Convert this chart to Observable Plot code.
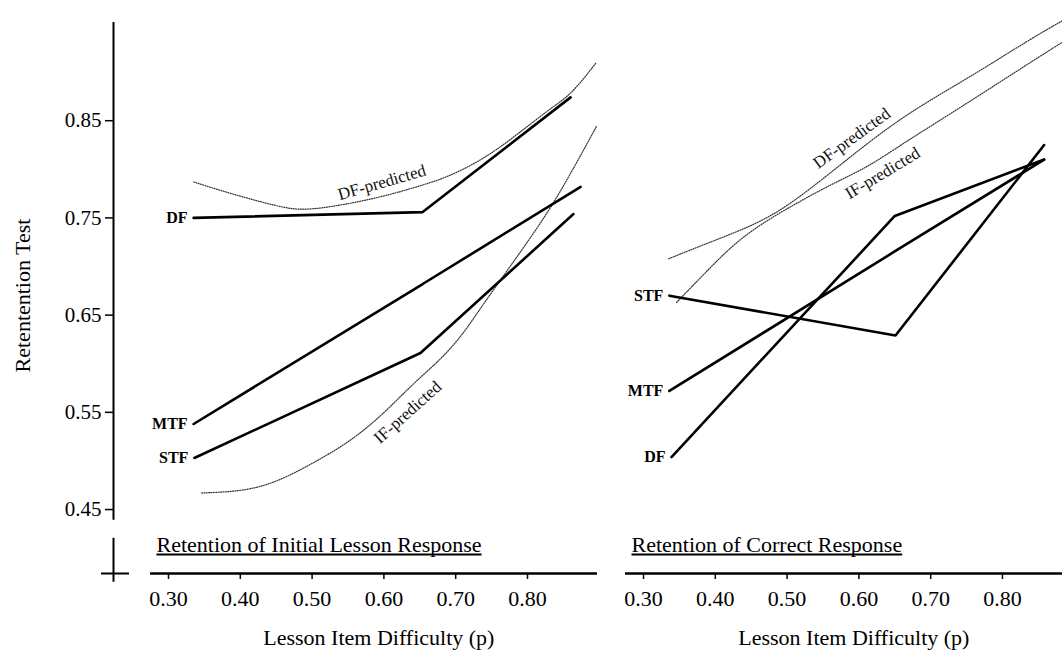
<!DOCTYPE html>
<html>
<head>
<meta charset="utf-8">
<script src="https://cdn.jsdelivr.net/npm/d3@7"></script>
<script src="https://cdn.jsdelivr.net/npm/@observablehq/plot@0.6"></script>
<style>
  body { margin: 0; background: #fff; }
  #chart { position: relative; width: 1062px; height: 656px; overflow: hidden; }
  #chart svg { position: absolute; top: 0; }
</style>
</head>
<body>
<div id="chart"></div>
<script>
// ---------- text ----------
const panelTitles = ["Retention of Initial Lesson Response", "Retention of Correct Response"];
const xTitle = "Lesson Item Difficulty (p)";
const yTitle = "Retentention Test";
const predictedNames = ["DF-predicted", "IF-predicted"];

// ---------- ticks ----------
const difficultyTicks = [0.30, 0.40, 0.50, 0.60, 0.70, 0.80];
const retentionTicks = [0.45, 0.55, 0.65, 0.75, 0.85];

// ---------- Left panel: Retention of Initial Lesson Response ----------
const initDF_x  = [0.335, 0.654, 0.860];
const initDF_y  = [0.750, 0.756, 0.874];
const initMTF_x = [0.335, 0.654, 0.874];
const initMTF_y = [0.538, 0.682, 0.782];
const initSTF_x = [0.336, 0.651, 0.864];
const initSTF_y = [0.503, 0.611, 0.754];

const initDFpred_x = [0.335, 0.386, 0.456, 0.484, 0.526, 0.595, 0.651, 0.689, 0.735, 0.776, 0.832, 0.860, 0.896];
const initDFpred_y = [0.787, 0.775, 0.761, 0.758, 0.761, 0.771, 0.783, 0.792, 0.809, 0.830, 0.863, 0.876, 0.910];
const initIFpred_x = [0.346, 0.410, 0.456, 0.502, 0.549, 0.595, 0.641, 0.679, 0.711, 0.735, 0.804, 0.842, 0.896];
const initIFpred_y = [0.467, 0.469, 0.480, 0.498, 0.518, 0.545, 0.580, 0.604, 0.631, 0.658, 0.729, 0.771, 0.844];

// ---------- Right panel: Retention of Correct Response ----------
const corrSTF_x = [0.336, 0.651, 0.858];
const corrSTF_y = [0.670, 0.629, 0.825];
const corrMTF_x = [0.336, 0.651, 0.858];
const corrMTF_y = [0.572, 0.716, 0.810];
const corrDF_x  = [0.339, 0.650, 0.858];
const corrDF_y  = [0.504, 0.752, 0.810];

const corrDFpred_x = [0.335, 0.389, 0.435, 0.491, 0.565, 0.658, 0.751, 0.843, 0.884];
const corrDFpred_y = [0.708, 0.724, 0.737, 0.756, 0.799, 0.854, 0.893, 0.936, 0.953];
const corrIFpred_x = [0.346, 0.389, 0.435, 0.495, 0.565, 0.612, 0.658, 0.751, 0.843, 0.884];
const corrIFpred_y = [0.663, 0.696, 0.730, 0.758, 0.786, 0.802, 0.825, 0.868, 0.912, 0.931];

// label placements for the predicted curves (data coords, rotation in degrees)
const initPredLabel_x = [0.597, 0.633];
const initPredLabel_y = [0.7865, 0.550];
const initPredLabel_r = [-16, -42];
const corrPredLabel_x = [0.590, 0.633];
const corrPredLabel_y = [0.832, 0.796];
const corrPredLabel_r = [-36, -31];

// ---------- helpers ----------
const rows = (name, xs, ys) => xs.map((x, i) => ({name, x, y: ys[i]}));
const fmt = d3.format(".2f");
const FONT = "'Liberation Serif', 'Times New Roman', serif";
const yDomain = [0.3842, 0.95];
const axisStart = 0.2749;

function panel({width, left, marginLeft, marginRight, xDomain, axisEnd, observed, predicted, predLabels, title, withYAxis}) {
  const obs = observed.flat();
  const pred = predicted.flat();
  const starts = observed.map(s => s[0]);
  const marks = [
    // x axis line
    Plot.ruleY([yDomain[0]], {x1: axisStart, x2: axisEnd, strokeWidth: 2.5}),
    Plot.axisX(difficultyTicks, {tickSize: 6, tickPadding: 11, tickFormat: fmt, label: null, fontSize: 22, strokeWidth: 1.5}),
    // panel title
    Plot.text([title], {x: axisStart, frameAnchor: "bottom", dy: -22, dx: 6, textAnchor: "start", fontSize: 22}),
    // x title
    Plot.text([xTitle], {x: 0.593, frameAnchor: "bottom", dy: 71, fontSize: 22}),
    // predicted curves
    Plot.line(pred, {x: "x", y: "y", z: "name", curve: "basis", stroke: "#333", strokeWidth: 1.2, strokeDasharray: "1,1.4"}),
    Plot.text(predLabels, {x: "x", y: "y", text: "name", rotate: "r", fontSize: 17, fill: "#111"}),
    // observed lines
    Plot.line(obs, {x: "x", y: "y", z: "name", stroke: "black", strokeWidth: 2.6, strokeLinejoin: "miter"}),
    Plot.text(starts, {x: "x", y: "y", text: "name", textAnchor: "end", dx: -6, fontSize: 16, fontWeight: "bold"})
  ];
  if (withYAxis) {
    marks.push(
      Plot.ruleX([xDomain[0]], {y1: 0.439, y2: 0.951, strokeWidth: 2}),
      Plot.axisY(retentionTicks, {tickSize: 8, tickPadding: 4, tickFormat: fmt, label: null, fontSize: 21, strokeWidth: 1.5}),
      // axis break mark
      Plot.ruleX([xDomain[0]], {y1: 0.3752, y2: 0.4204, strokeWidth: 2}),
      Plot.ruleY([yDomain[0]], {x1: 0.2067, x2: 0.2457, strokeWidth: 2}),
      Plot.text([yTitle], {frameAnchor: "left", textAnchor: "middle", rotate: -90, dx: -91, dy: -3, fontSize: 22})
    );
  }
  const svg = Plot.plot({
    width, height: 656,
    marginTop: 23, marginBottom: 83, marginLeft, marginRight,
    x: {domain: xDomain, axis: null},
    y: {domain: yDomain, axis: null},
    style: {fontFamily: FONT, fontSize: "20px", background: "transparent", color: "black", overflow: "visible"},
    marks
  });
  svg.style.left = left + "px";
  svg.style.maxWidth = "none";
  return svg;
}

// underline the panel titles (styling only: measured from the rendered text)
function underlineTitles(svg) {
  svg.querySelectorAll("text").forEach(t => {
    if (!panelTitles.includes(t.textContent)) return;
    const b = t.getBBox();
    const line = document.createElementNS("http://www.w3.org/2000/svg", "line");
    const yb = b.y + b.height - 2;
    line.setAttribute("x1", b.x);
    line.setAttribute("x2", b.x + b.width);
    line.setAttribute("y1", yb);
    line.setAttribute("y2", yb);
    line.setAttribute("stroke", "black");
    line.setAttribute("stroke-width", "2");
    if (t.getAttribute("transform")) line.setAttribute("transform", t.getAttribute("transform"));
    t.parentNode.appendChild(line);
  });
}

const initPredLabels = predictedNames.map((name, i) => ({name, x: initPredLabel_x[i], y: initPredLabel_y[i], r: initPredLabel_r[i]}));
const corrPredLabels = predictedNames.map((name, i) => ({name, x: corrPredLabel_x[i], y: corrPredLabel_y[i], r: corrPredLabel_r[i]}));

const chart = document.getElementById("chart");
const leftSvg = panel({
  width: 612, left: 0, marginLeft: 113, marginRight: 15,
  xDomain: [0.2234, 0.8975], axisEnd: 0.8975,
  observed: [rows("DF", initDF_x, initDF_y), rows("MTF", initMTF_x, initMTF_y), rows("STF", initSTF_x, initSTF_y)],
  predicted: [rows("DF-predicted", initDFpred_x, initDFpred_y), rows("IF-predicted", initIFpred_x, initIFpred_y)],
  predLabels: initPredLabels,
  title: panelTitles[0],
  withYAxis: true
});
const rightSvg = panel({
  width: 450, left: 612, marginLeft: 13, marginRight: 0,
  xDomain: [0.2749, 0.8836], axisEnd: 0.91,
  observed: [rows("STF", corrSTF_x, corrSTF_y), rows("MTF", corrMTF_x, corrMTF_y), rows("DF", corrDF_x, corrDF_y)],
  predicted: [rows("DF-predicted", corrDFpred_x, corrDFpred_y), rows("IF-predicted", corrIFpred_x, corrIFpred_y)],
  predLabels: corrPredLabels,
  title: panelTitles[1],
  withYAxis: false
});
chart.append(leftSvg, rightSvg);
underlineTitles(leftSvg);
underlineTitles(rightSvg);
</script>
</body>
</html>
